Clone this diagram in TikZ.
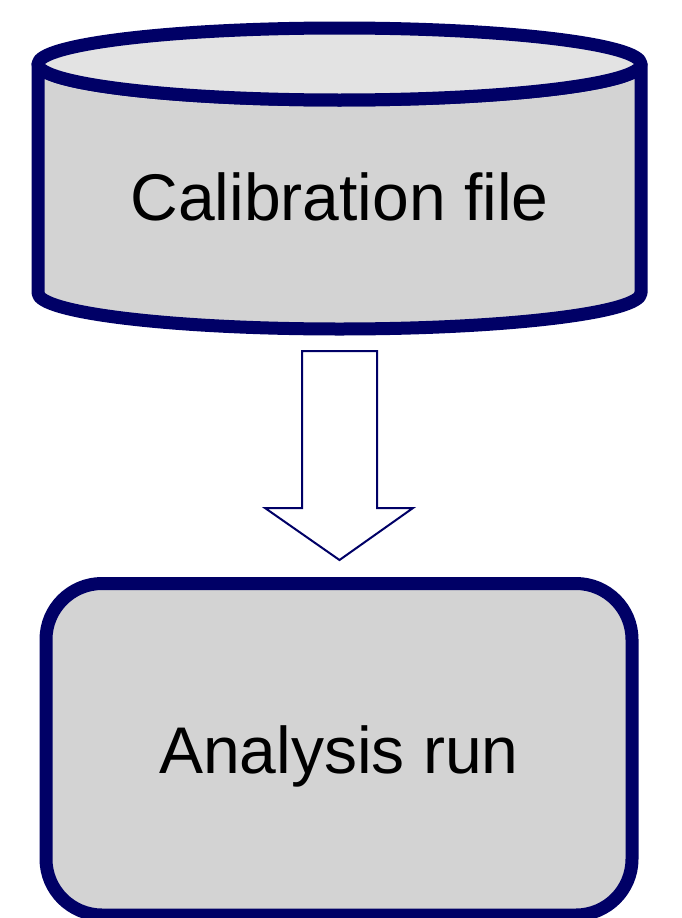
\documentclass[tikz,border=0pt]{standalone}
\usepackage{fontspec}
\setmainfont{Liberation Sans}
\definecolor{navy}{HTML}{000066}
\definecolor{bodygray}{HTML}{D3D3D3}
\definecolor{capgray}{HTML}{E3E3E3}
\begin{document}
\begin{tikzpicture}[x=1pt,y=-1pt,
  outline/.style={draw=navy,line width=13pt,line join=round},
  label/.style={font=\fontsize{66}{78}\selectfont,text=black,anchor=base,inner sep=0pt},
  flowarrow/.style={draw=navy,fill=white,line width=2pt,line join=miter}]
  \useasboundingbox (0,0) rectangle (681,918);

  % storage cylinder: body, then the lighter lid on top
  \path[outline,fill=bodygray]
    (38,64) -- (38,293)
    arc[start angle=180,end angle=0,x radius=301.5,y radius=36]
    -- (641,64)
    arc[start angle=0,end angle=180,x radius=301.5,y radius=36] -- cycle;
  \path[outline,fill=capgray] (339.5,64) ellipse[x radius=301.5,y radius=36];
  \node[label] (calib) at (339.5,220) {Calibration file};

  % process box
  \path[outline,fill=bodygray,rounded corners=56pt] (46,583.5) rectangle (632,915);
  \node[label] (run) at (339,773) {Analysis run};

  % block arrow from the file to the run
  \coordinate (atip) at (339.5,560);
  \path[flowarrow] (302,351) -- (377,351) -- (377,508) -- (413,508)
    -- (atip) -- (265,508) -- (302,508) -- cycle;
\end{tikzpicture}
\end{document}
